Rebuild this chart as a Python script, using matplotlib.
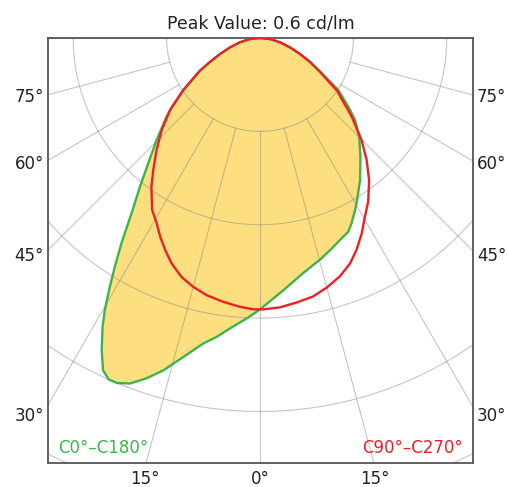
import numpy as np
import matplotlib.pyplot as plt

# Luminous intensity distribution, gamma angle from nadir (deg) -> cd/lm
# C0-C180 plane (green, filled)
c0_angles = [-90, -84, -77.9, -72.4, -68.2, -64.4, -61.4, -55.8, -52.1, -49.9,
             -45.4, -41.7, -38.9, -36.5, -34.0, -32.4, -31.1, -29.7, -28.6, -26.9,
             -25.3, -23.9, -22.5, -20.6, -18.4, -16.2, -13.5, -10.5, -8.2, -5.9,
             -2.7, 0, 5.3, 10.4, 15.1, 18.3, 21.6, 24.5, 26.3, 28.9,
             30.7, 35.2, 40.2, 45.1, 49.2, 52.1, 56.4, 60.5, 64.4, 68.2,
             72.4, 77.9, 84, 90]
c0_values = [0, 0.016, 0.033, 0.051, 0.069, 0.089, 0.110, 0.147, 0.178, 0.196,
             0.233, 0.270, 0.307, 0.344, 0.398, 0.435, 0.467, 0.503, 0.528, 0.562,
             0.590, 0.600, 0.600, 0.593, 0.576, 0.556, 0.527, 0.499, 0.485, 0.469,
             0.451, 0.436, 0.407, 0.384, 0.369, 0.359, 0.349, 0.342, 0.332, 0.316,
             0.305, 0.279, 0.250, 0.225, 0.202, 0.180, 0.151, 0.113, 0.090, 0.070,
             0.052, 0.034, 0.016, 0]

# C90-C270 plane (red)
c90_angles = [-90, -84, -77.9, -72.4, -68.2, -64.4, -61.4, -55.9, -51.3, -46.9,
              -42.7, -38.9, -36.1, -32.1, -29.1, -26.7, -24.1, -21.4, -18.2, -15.0,
              -11.7, -7.9, -4.3, -1.4, 0.7, 4.2, 7.9, 11.6, 15.0, 18.5,
              21.8, 24.5, 27.5, 30.4, 33.5, 37.5, 41.2, 44.9, 49.4, 55.5,
              60.5, 64.4, 68.2, 72.4, 77.9, 84, 90]
c90_values = [0, 0.016, 0.033, 0.051, 0.069, 0.089, 0.110, 0.149, 0.185, 0.216,
              0.245, 0.273, 0.296, 0.326, 0.341, 0.357, 0.373, 0.389, 0.404, 0.414,
              0.422, 0.428, 0.433, 0.436, 0.436, 0.434, 0.429, 0.424, 0.415, 0.404,
              0.390, 0.374, 0.354, 0.333, 0.315, 0.288, 0.260, 0.231, 0.194, 0.151,
              0.111, 0.089, 0.069, 0.051, 0.033, 0.016, 0]

peak_value = 0.6
ring_values = [0.15, 0.30, 0.45, 0.60, 0.75]
spoke_angles = [-90, -75, -60, -45, -30, -15, 0, 15, 30, 45, 60, 75, 90]
side_angles = [30, 45, 60, 75]
bottom_angles = [-15, 0, 15]


def to_xy(angles, values):
    # nadir points down, origin at the top of the plot
    g = np.radians(angles)
    v = np.asarray(values)
    return v * np.sin(g), -v * np.cos(g)


fig = plt.figure(figsize=(5.08, 4.87), dpi=100)
ax = fig.add_axes([0.0951, 0.0503, 0.8354, 0.8717])
x_lo, x_hi, y_lo = -0.340, 0.3417, -0.682
ax.set_xlim(x_lo, x_hi)
ax.set_ylim(y_lo, 0)

# filled C0-C180 curve
gx, gy = to_xy(c0_angles, c0_values)
ax.fill(gx, gy, color='#fddf80', lw=0, zorder=1)

# polar grid on top of the fill
t = np.linspace(0, 2 * np.pi, 361)
for r in ring_values:
    ax.plot(r * np.cos(t), r * np.sin(t), color='#808080', alpha=0.45, lw=0.8, zorder=2)
for a in spoke_angles:
    sx, sy = to_xy([a, a], [ring_values[0], 1.0])
    ax.plot(sx, sy, color='#808080', alpha=0.45, lw=0.8, zorder=2)

ax.plot(gx, gy, color='#3cb44b', lw=1.7, zorder=3, solid_joinstyle='round')
rx, ry = to_xy(c90_angles, c90_values)
ax.plot(rx, ry, color='#ee1f26', lw=1.7, zorder=4, solid_joinstyle='round')

ax.set_xticks([])
ax.set_yticks([])
for s in ax.spines.values():
    s.set_color('#555555')
    s.set_linewidth(1.3)

# angle labels
for a in side_angles:
    yy = -x_hi / np.tan(np.radians(a)) * 1.027
    ax.text(x_lo - 0.007, yy, f'{a}°', ha='right', va='center', fontsize=12, color='#222222', clip_on=False)
    ax.text(x_hi + 0.007, yy, f'{a}°', ha='left', va='center', fontsize=12, color='#222222', clip_on=False)
for a in bottom_angles:
    xx = -y_lo * np.tan(np.radians(a)) * 1.01
    ax.text(xx, y_lo - 0.026, f'{abs(a)}°', ha='center', va='center', fontsize=12, color='#222222', clip_on=False)

ax.text(-0.3245, -0.6667, 'C0°–C180°', color='#3cb44b', fontsize=12, ha='left', va='baseline')
ax.text(0.326, -0.6667, 'C90°–C270°', color='#ee1f26', fontsize=12, ha='right', va='baseline')

ax.set_title(f'Peak Value: {peak_value} cd/lm', fontsize=12.5, color='#222222', pad=7)

fig.savefig('out.png', dpi=100)
